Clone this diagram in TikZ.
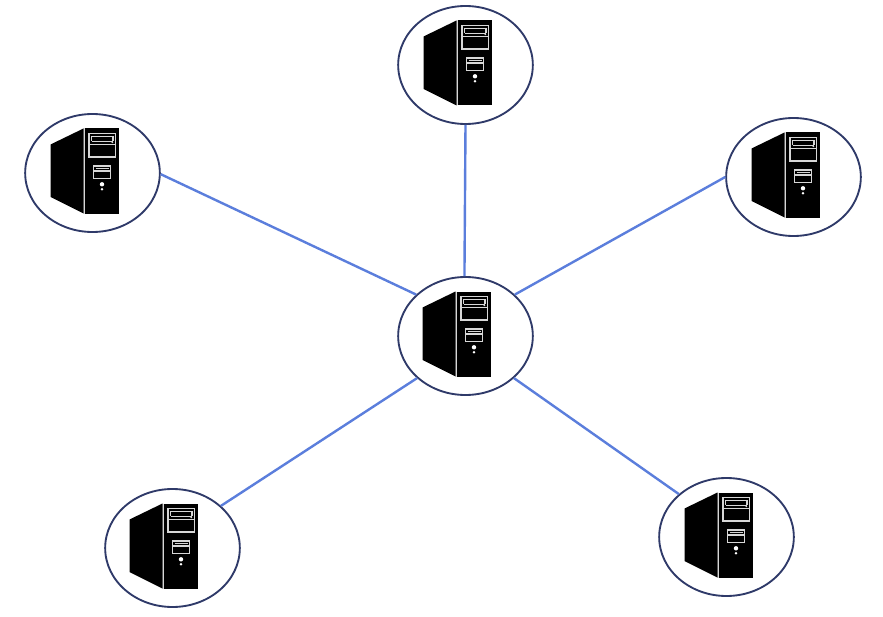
\documentclass[tikz,border=0pt]{standalone}
\usetikzlibrary{shapes.geometric}
\definecolor{ringc}{RGB}{47,58,105}
\definecolor{linkc}{RGB}{91,126,220}
\definecolor{slotc}{RGB}{215,215,215}
\tikzset{
  x=0.75pt,y=-0.75pt,
  hostnode/.style={ellipse,draw=ringc,line width=1.4pt,fill=white,minimum width=101pt,minimum height=88.5pt,inner sep=0pt},
  linkline/.style={draw=linkc,line width=1.8pt},
  slot/.style={draw=slotc,line width=0.8pt},
  towerpic/.pic={
    \fill[black] (-43,-28.5) -- (-10,-44.5) -- (-10,40.5) -- (-43,24) -- cycle;
    \fill[black] (-8.5,-44.5) rectangle (25,40.5);
    \draw[slot,line width=0.9pt] (-9.2,-44.5) -- (-9.2,40.5);
    \draw[slot] (-4.5,-39.3) rectangle (21.8,-16);
    \draw[slot] (-4.5,-28.3) -- (21.8,-28.3);
    \draw[slot] (-2,-36.7) -- (19.5,-36.7) (-2,-36.7) -- (-2,-31.7) (-2,-31.7) -- (19.5,-31.7) (19.5,-36.7) -- (19.5,-31.7);
    \fill[slotc] (18.8,-30.7) circle (1);
    \draw[slot] (-0.2,-7) rectangle (17.2,5.3);
    \draw[slot] (-0.2,-2) -- (17.2,-2);
    \draw[slot,line width=0.6pt] (2,-5) -- (15,-5);
    \fill[white] (8.5,11.3) circle (2.2);
    \fill[white] (8.5,16.3) circle (1.4);
  }
}
\begin{document}
\begin{tikzpicture}
\useasboundingbox (0,0) rectangle (883,617);
\node[hostnode] (hub) at (465.5,336) {};
\node[hostnode] (top) at (465.5,65) {};
\node[hostnode] (lft) at (92.5,173) {};
\node[hostnode] (rgt) at (793.5,177) {};
\node[hostnode] (bl) at (172.5,548) {};
\node[hostnode] (br) at (726.5,537) {};
\draw[linkline] (top.south) -- (hub.91);
\draw[linkline] (lft.-1) -- (hub.140.4);
\draw[linkline] (rgt.west) -- (hub.40.9);
\draw[linkline] (bl.41) -- (hub.221.5);
\draw[linkline] (br.138.4) -- (hub.319);
\path (hub.center) pic {towerpic};
\foreach \n in {top,lft,rgt,br} \path ([xshift=0.75pt]\n.center) pic {towerpic};
\path (bl.center) pic {towerpic};
\end{tikzpicture}
\end{document}
